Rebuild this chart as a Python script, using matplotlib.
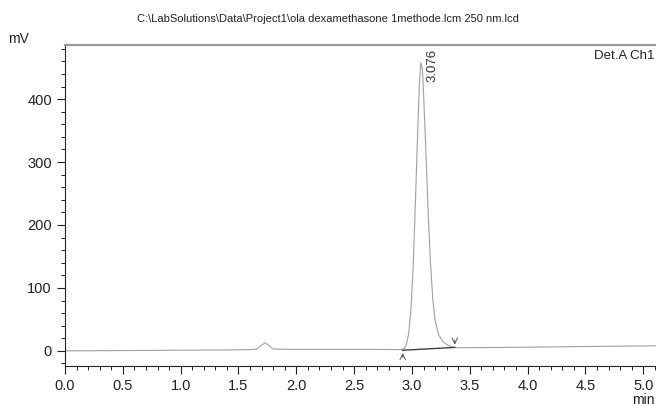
import matplotlib.pyplot as plt
from matplotlib.ticker import MultipleLocator

plt.rcParams['font.family'] = ['Liberation Sans Narrow', 'Liberation Sans', 'DejaVu Sans']

# chromatogram trace (min, mV)
tempo = [0.00, 0.50, 1.00, 1.40, 1.60, 1.66, 1.70, 1.73, 1.76, 1.80, 1.90, 2.20, 2.60, 2.90,
         2.93, 2.95, 2.97, 2.99, 3.01, 3.03, 3.05, 3.065, 3.076, 3.09, 3.10, 3.12, 3.14,
         3.16, 3.18, 3.20, 3.23, 3.27, 3.31, 3.35, 3.40, 3.80, 4.30, 4.80, 5.12]
sinal = [0.0, 0.5, 1.0, 1.5, 2.0, 3.0, 9.0, 13.0, 9.0, 3.0, 2.5, 2.5, 2.5, 2.0,
         3.0, 9.0, 26.0, 62.0, 132.0, 238.0, 352.0, 428.0, 458.0, 448.0, 410.0, 318.0, 220.0,
         140.0, 82.0, 48.0, 26.0, 14.0, 9.0, 6.0, 5.0, 5.5, 6.5, 7.5, 8.0]

# integration baseline of the peak
base_t = [2.92, 3.37]
base_y = [1.0, 5.5]

pico_t = 3.076
pico_y = 458.0
pico_label = "3.076"

fig = plt.figure(figsize=(6.56, 4.12), dpi=100)
ax = fig.add_axes([0.0991, 0.1117, 0.9009, 0.7791])

ax.plot(tempo, sinal, color='#a0a0a0', lw=0.8)
ax.plot(base_t, base_y, color='#404040', lw=1.0)

ax.annotate('', xy=(base_t[0], base_y[0]), xytext=(base_t[0], base_y[0] - 16),
            arrowprops=dict(arrowstyle='->', color='#555555', lw=0.7))
ax.annotate('', xy=(base_t[1], base_y[1]), xytext=(base_t[1], base_y[1] + 16),
            arrowprops=dict(arrowstyle='->', color='#555555', lw=0.7))

ax.annotate(pico_label, xy=(pico_t, pico_y), xytext=(4, -14), textcoords='offset points',
            rotation=90, ha='left', va='bottom', fontsize=9.5, color='#333333')

ax.set_xlim(0, 5.11)
ax.set_ylim(-24, 486)
ax.xaxis.set_major_locator(MultipleLocator(0.5))
ax.xaxis.set_minor_locator(MultipleLocator(0.1))
ax.yaxis.set_major_locator(MultipleLocator(100))
ax.yaxis.set_minor_locator(MultipleLocator(20))
ax.xaxis.set_major_formatter(plt.FuncFormatter(lambda v, p: '%.1f' % v))
ax.tick_params(axis='both', which='major', direction='out', length=6, width=0.8,
               labelsize=10.5, colors='#222222')
ax.tick_params(axis='both', which='minor', direction='out', length=3, width=0.7, colors='#222222')

ax.spines['right'].set_visible(False)
ax.spines['top'].set_color('#999999')
ax.spines['top'].set_linewidth(1.6)
ax.spines['left'].set_color('#222222')
ax.spines['bottom'].set_color('#222222')

ax.text(0.998, 0.985, 'Det.A Ch1', transform=ax.transAxes, ha='right', va='top',
        fontsize=9.5, color='#222222')

fig.text(0.5, 0.955, r'C:\LabSolutions\Data\Project1\ola dexamethasone 1methode.lcm 250 nm.lcd',
         ha='center', va='center', fontsize=8, color='#222222')
fig.text(0.012, 0.905, 'mV', ha='left', va='center', fontsize=10, color='#222222')
fig.text(0.998, 0.012, 'min', ha='right', va='bottom', fontsize=10, color='#222222')

fig.savefig('out.png', dpi=100)
